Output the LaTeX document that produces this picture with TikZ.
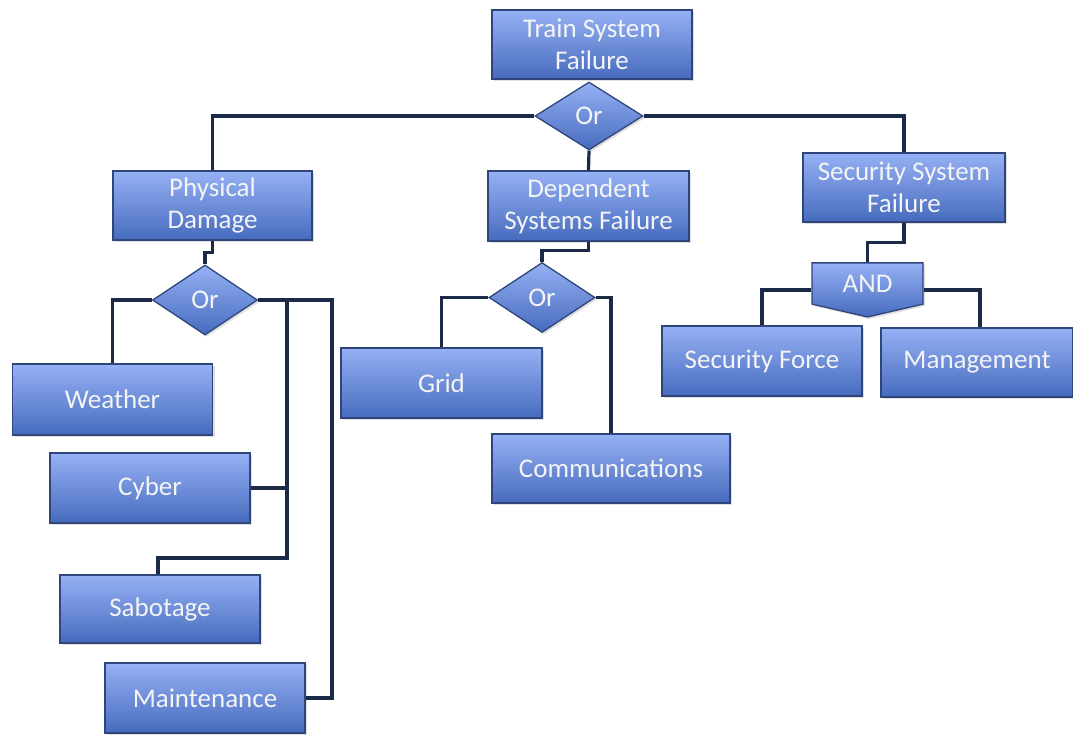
\documentclass[tikz,border=0pt]{standalone}
\usepackage{fontspec}
\setmainfont{Carlito}
\usetikzlibrary{shapes.geometric, shapes.symbols, shadows, calc}

\definecolor{boxtop}{HTML}{96B1F5}
\definecolor{boxbot}{HTML}{466BBD}
\definecolor{boxline}{HTML}{30457A}
\definecolor{wire}{HTML}{1B2A46}
\definecolor{label}{HTML}{F4F4F4}

\tikzset{
  block/.style={draw=boxline, line width=1.3pt, top color=boxtop,
    bottom color=boxbot, text=label, align=center, inner sep=2pt,
    font=\fontsize{27}{32}\selectfont,
    drop shadow={shadow xshift=2pt, shadow yshift=-2pt, opacity=0.25}},
  event/.style={block, rectangle, minimum width=200pt, minimum height=70pt},
  orgate/.style={block, diamond, inner sep=0pt, minimum width=106pt,
    minimum height=70pt},
  andgate/.style={block, signal, signal to=south, signal pointer angle=154,
    inner sep=0pt, minimum width=111pt, minimum height=47pt},
  wire/.style={draw=wire, line width=3.2pt}
}

\begin{document}
\begin{tikzpicture}[x=1pt, y=-1pt]

  \useasboundingbox (0,0) rectangle (1073,734);

  % --- Evento principale ---
  \node[event, minimum height=69pt] (tsf) at (592,44.5)
    {Train System\\Failure};
  \node[orgate, minimum width=108pt, minimum height=68pt] (or1) at (589,116) {Or};

  % --- Secondo livello ---
  \node[event, minimum width=199pt, minimum height=69pt] (pd) at (212.5,205.5)
    {Physical\\Damage};
  \node[event, minimum width=201pt] (dsf) at (588.5,206)
    {Dependent\\Systems Failure};
  \node[event, minimum width=202pt, minimum height=69pt] (ssf) at (904,187.5)
    {Security System\\Failure};

  % --- Porte ---
  \node[orgate, minimum width=105pt] (or2) at (205,300) {Or};
  \node[orgate] (or3) at (542,297.5) {Or};
  \node[andgate] (and) at (867.5,283.5) {AND};

  % --- Eventi di base ---
  \node[event, minimum height=71pt] (weather) at (112.5,399.5) {Weather};
  \node[event] (cyber) at (150,488) {Cyber};
  \node[event, minimum height=68pt] (sab) at (160,609) {Sabotage};
  \node[event] (maint) at (205,698) {Maintenance};
  \node[event, minimum width=201pt] (grid) at (441.5,383) {Grid};
  \node[event, minimum width=238pt, minimum height=69pt] (comm) at (611,468.5)
    {Communications};
  \node[event] (sf) at (762,361) {Security Force};
  \node[event, minimum width=192pt, minimum height=69pt] (mgmt) at (977,362.5)
    {Management};

  % --- Collegamenti ---
  \draw[wire] (or1.west) -| (pd.north);
  \draw[wire] (or1.south) -- (dsf.north);
  \draw[wire] (or1.east) -| (ssf.north);

  \draw[wire] (pd.south) -- ++(0,12) -| (or2.north);
  \draw[wire] (or2.west) -| (weather.north);
  \coordinate (bus1) at (287,300);
  \coordinate (bus2) at (332,300);
  \draw[wire] (or2.east) -- (bus2) |- (maint.east);
  \draw[wire] (bus1) |- (cyber.east);
  \draw[wire] (bus1) -- (287,558) -| ([xshift=-2pt]sab.north);

  \draw[wire] (dsf.south) -- ++(0,9) -| (or3.north);
  \draw[wire] (or3.west) -| (grid.north);
  \draw[wire] (or3.east) -| (comm.north);

  \draw[wire] (ssf.south) -- ++(0,20) -| (and.north);
  \draw[wire] ([yshift=-6.5pt]and.west) -| (sf.north);
  \draw[wire] ([yshift=-6.5pt]and.east) -| ([xshift=3pt]mgmt.north);

\end{tikzpicture}
\end{document}
